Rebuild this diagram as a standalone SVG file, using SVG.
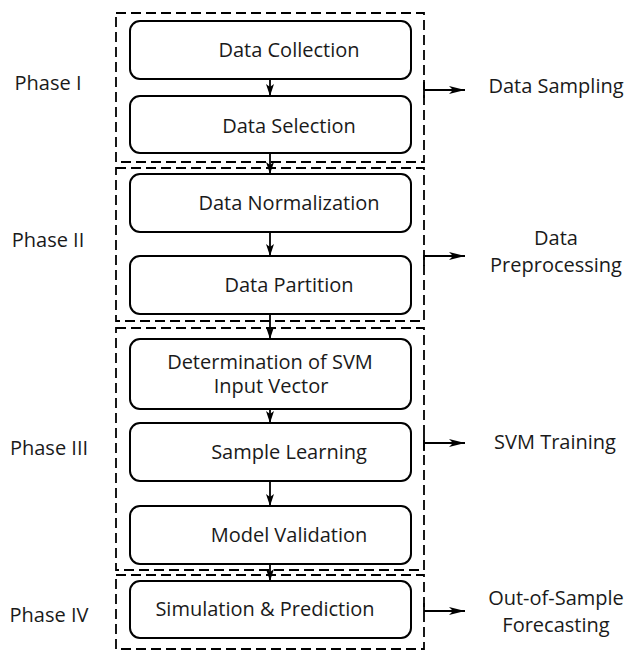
<svg xmlns="http://www.w3.org/2000/svg" width="626" height="651" viewBox="0 0 626 651">
<style>
text{font-family:"Open Sans","Noto Sans","Liberation Sans",sans-serif;font-size:20px;fill:#1a1a1a;}
.node rect{fill:#fff;stroke:#000;stroke-width:2;}
.phase{fill:none;stroke:#000;stroke-width:1.8;stroke-dasharray:10,5;}
.conn line,.conn path{stroke:#000;stroke-width:1.8;fill:none;}
.mid{text-anchor:middle;}
</style>
<defs>
<marker id="ah" viewBox="0 0 12 8" refX="12" refY="4" markerWidth="12" markerHeight="8" markerUnits="userSpaceOnUse" orient="auto">
<path d="M0,0 L12,4 L0,8 L3,4 z" fill="#000"/>
</marker>
<marker id="ah2" viewBox="0 0 16 8" refX="16" refY="4" markerWidth="16" markerHeight="8" markerUnits="userSpaceOnUse" orient="auto">
<path d="M0,0 L16,4 L0,8 L4,4 z" fill="#000"/>
</marker>
</defs>
<g id="phases">
<rect class="phase" x="116" y="13" width="308" height="149"/>
<rect class="phase" x="116" y="168" width="308" height="153"/>
<rect class="phase" x="116" y="328" width="308" height="242"/>
<rect class="phase" x="116" y="575" width="308" height="74"/>
<text class="mid" x="48" y="90">Phase I</text>
<text class="mid" x="48" y="247">Phase II</text>
<text class="mid" x="49" y="455">Phase III</text>
<text class="mid" x="49" y="622">Phase IV</text>
</g>
<g id="n1" class="node"><rect x="130" y="21" width="281" height="58" rx="10"/><text class="mid" x="289" y="57">Data Collection</text></g>
<g id="n2" class="node"><rect x="130" y="96" width="281" height="57" rx="10"/><text class="mid" x="289" y="133">Data Selection</text></g>
<g id="n3" class="node"><rect x="130" y="174" width="281" height="58" rx="10"/><text class="mid" x="289" y="210">Data Normalization</text></g>
<g id="n4" class="node"><rect x="130" y="256" width="281" height="58" rx="10"/><text class="mid" x="289" y="292">Data Partition</text></g>
<g id="n5" class="node"><rect x="130" y="339" width="281" height="70" rx="10"/><text class="mid" x="270" y="369">Determination of SVM</text><text class="mid" x="271" y="393">Input Vector</text></g>
<g id="n6" class="node"><rect x="130" y="423" width="281" height="58" rx="10"/><text class="mid" x="289" y="459">Sample Learning</text></g>
<g id="n7" class="node"><rect x="130" y="506" width="281" height="58" rx="10"/><text class="mid" x="289" y="542">Model Validation</text></g>
<g id="n8" class="node"><rect x="130" y="581" width="281" height="57" rx="10"/><text class="mid" x="265" y="616">Simulation &amp; Prediction</text></g>
<g id="connectors" class="conn">
<line x1="270" y1="79" x2="270" y2="96" marker-end="url(#ah)"/>
<line x1="270" y1="153" x2="270" y2="174" marker-end="url(#ah)"/>
<line x1="270" y1="232" x2="270" y2="256" marker-end="url(#ah)"/>
<line x1="270" y1="314" x2="270" y2="339" marker-end="url(#ah)"/>
<line x1="270" y1="409" x2="270" y2="423" marker-end="url(#ah)"/>
<line x1="270" y1="481" x2="270" y2="506" marker-end="url(#ah)"/>
<line x1="270" y1="564" x2="270" y2="581" marker-end="url(#ah)"/>
<path d="M424,82 V98 M424,90 H465" marker-end="url(#ah2)"/>
<path d="M424,266 V256 H465" marker-end="url(#ah2)"/>
<path d="M424,435 V451 M424,443 H465" marker-end="url(#ah2)"/>
<path d="M424,603 V611 H465" marker-end="url(#ah2)"/>
</g>
<g id="outputs">
<text class="mid" x="556" y="93">Data Sampling</text>
<text class="mid" x="556" y="245">Data</text>
<text class="mid" x="556" y="272">Preprocessing</text>
<text class="mid" x="555" y="449">SVM Training</text>
<text class="mid" x="556" y="605">Out-of-Sample</text>
<text class="mid" x="556" y="632">Forecasting</text>
</g>
</svg>
